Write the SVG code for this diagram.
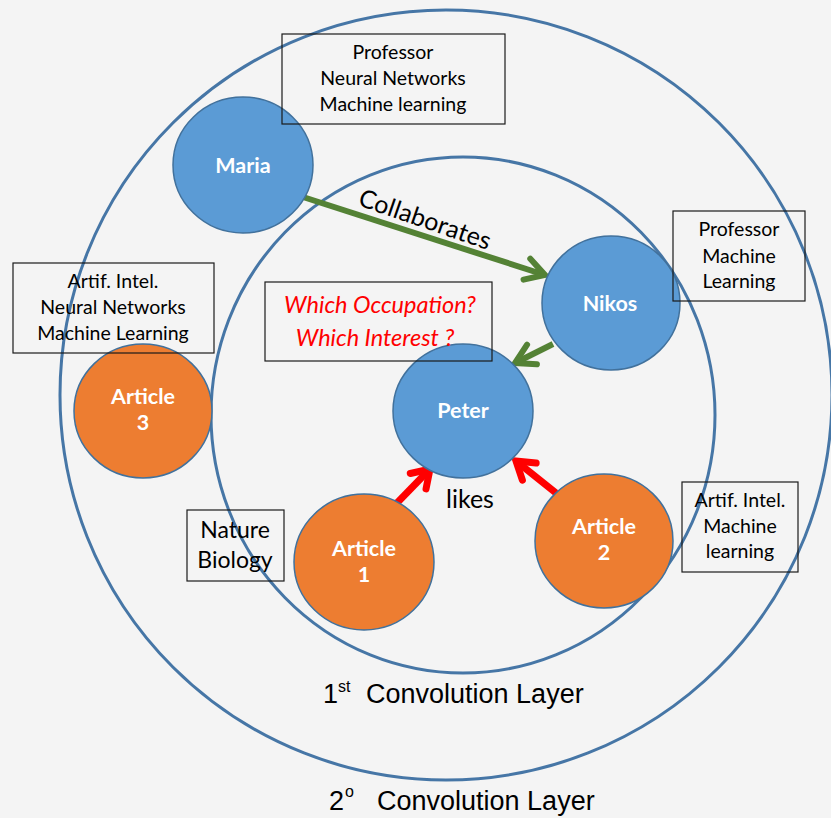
<svg xmlns="http://www.w3.org/2000/svg" width="831" height="818" viewBox="0 0 831 818">
  <style>
    .ring { fill: none; stroke: #4676a6; stroke-width: 3; }
    .person { fill: #5b9bd5; stroke: #41719c; stroke-width: 1.5; }
    .article { fill: #ed7d31; stroke: #41719c; stroke-width: 1.5; }
    .node-label { font-family: Lato, "Open Sans", sans-serif; font-weight: bold; font-size: 21.5px; fill: #ffffff; text-anchor: middle; }
    .box { fill: none; stroke: #1a1a1a; stroke-width: 1.2; }
    .box-text { font-family: Lato, "Open Sans", sans-serif; font-size: 19.5px; fill: #000000; text-anchor: middle; }
    .question { font-family: Lato, "Open Sans", sans-serif; font-style: italic; font-size: 23.5px; fill: #ff0000; text-anchor: middle; }
    .edge-label { font-family: Lato, "Open Sans", sans-serif; font-size: 25px; fill: #000000; }
    .layer { font-family: "Liberation Sans", Arial, sans-serif; font-size: 27px; fill: #000000; }
    .sup { font-family: "Liberation Sans", Arial, sans-serif; font-size: 16px; fill: #000000; }
    .collab { fill: none; stroke: #548235; stroke-width: 6; }
    .like { fill: none; stroke: #ff0000; stroke-width: 7; }
  </style>
  <defs>
    <marker id="head-green" markerUnits="userSpaceOnUse" viewBox="-24 -16 28 32" markerWidth="28" markerHeight="32" refX="0" refY="0" orient="auto" overflow="visible">
      <path d="M-19,-11 L0,0 L-19,11" fill="none" stroke="#548235" stroke-width="6" stroke-linecap="round" stroke-linejoin="miter"/>
    </marker>
    <marker id="head-red" markerUnits="userSpaceOnUse" viewBox="-24 -16 28 32" markerWidth="28" markerHeight="32" refX="0" refY="0" orient="auto" overflow="visible">
      <path d="M-17,-11 L0,0 L-17,11" fill="none" stroke="#ff0000" stroke-width="7" stroke-linecap="round" stroke-linejoin="miter"/>
    </marker>
  </defs>

  <rect x="0" y="0" width="831" height="818" fill="#f4f4f4"/>

  <!-- convolution layers -->
  <g id="layers">
    <ellipse class="ring" cx="446" cy="395" rx="386" ry="385"/>
    <ellipse class="ring" cx="463" cy="415" rx="252" ry="258"/>
    <text class="layer" x="323" y="703">1</text>
    <text class="sup" x="338" y="692">st</text>
    <text class="layer" x="366" y="703">Convolution Layer</text>
    <text class="layer" x="329" y="810">2</text>
    <text class="sup" x="345" y="797">o</text>
    <text class="layer" x="377" y="810">Convolution Layer</text>
  </g>

  <!-- relations -->
  <g id="connectors">
    <line class="collab" x1="303" y1="197" x2="545" y2="275" marker-end="url(#head-green)"/>
    <line class="collab" x1="553" y1="344" x2="515" y2="363" marker-end="url(#head-green)"/>
    <line class="like" x1="395" y1="505" x2="430" y2="469" marker-end="url(#head-red)"/>
    <line class="like" x1="556" y1="493" x2="516" y2="461" marker-end="url(#head-red)"/>
    <text class="edge-label" transform="translate(357,205) rotate(19)" textLength="138">Collaborates</text>
    <text class="edge-label" x="446" y="508">likes</text>
  </g>

  <g id="maria">
    <ellipse class="person" cx="243" cy="165" rx="70" ry="68"/>
    <text class="node-label" x="243" y="173">Maria</text>
  </g>
  <g id="nikos">
    <ellipse class="person" cx="611" cy="303" rx="69" ry="67"/>
    <text class="node-label" x="610" y="311">Nikos</text>
  </g>
  <g id="peter">
    <ellipse class="person" cx="463" cy="411" rx="70" ry="67"/>
    <text class="node-label" x="463" y="418">Peter</text>
  </g>
  <g id="article1">
    <ellipse class="article" cx="364" cy="562" rx="70" ry="68"/>
    <text class="node-label" x="364" y="556">Article</text>
    <text class="node-label" x="364" y="582">1</text>
  </g>
  <g id="article2">
    <ellipse class="article" cx="604" cy="541" rx="69" ry="67"/>
    <text class="node-label" x="604" y="534">Article</text>
    <text class="node-label" x="604" y="560">2</text>
  </g>
  <g id="article3">
    <ellipse class="article" cx="143" cy="411" rx="69" ry="67"/>
    <text class="node-label" x="143" y="404">Article</text>
    <text class="node-label" x="143" y="430">3</text>
  </g>

  <!-- attribute boxes -->
  <g id="maria-info">
    <rect class="box" x="282" y="34" width="223" height="90"/>
    <text class="box-text" x="393" y="59">Professor</text>
    <text class="box-text" x="393" y="85">Neural Networks</text>
    <text class="box-text" x="393" y="111">Machine learning</text>
  </g>
  <g id="nikos-info">
    <rect class="box" x="673" y="211" width="132" height="90"/>
    <text class="box-text" x="739" y="236">Professor</text>
    <text class="box-text" x="739" y="263">Machine</text>
    <text class="box-text" x="739" y="288">Learning</text>
  </g>
  <g id="peter-query">
    <rect class="box" x="265" y="282" width="227" height="79"/>
    <text class="question" x="380" y="313">Which Occupation?</text>
    <text class="question" x="375" y="346">Which Interest ?</text>
  </g>
  <g id="article3-info">
    <rect class="box" x="13" y="263" width="201" height="90"/>
    <text class="box-text" x="113" y="288">Artif. Intel.</text>
    <text class="box-text" x="113" y="314">Neural Networks</text>
    <text class="box-text" x="113" y="340">Machine Learning</text>
  </g>
  <g id="article1-info">
    <rect class="box" x="187" y="510" width="97" height="71"/>
    <text class="box-text" x="235" y="538" style="font-size:23px">Nature</text>
    <text class="box-text" x="235" y="568" style="font-size:23px">Biology</text>
  </g>
  <g id="article2-info">
    <rect class="box" x="682" y="482" width="116" height="90"/>
    <text class="box-text" x="740" y="507">Artif. Intel.</text>
    <text class="box-text" x="740" y="533">Machine</text>
    <text class="box-text" x="740" y="558">learning</text>
  </g>
</svg>
